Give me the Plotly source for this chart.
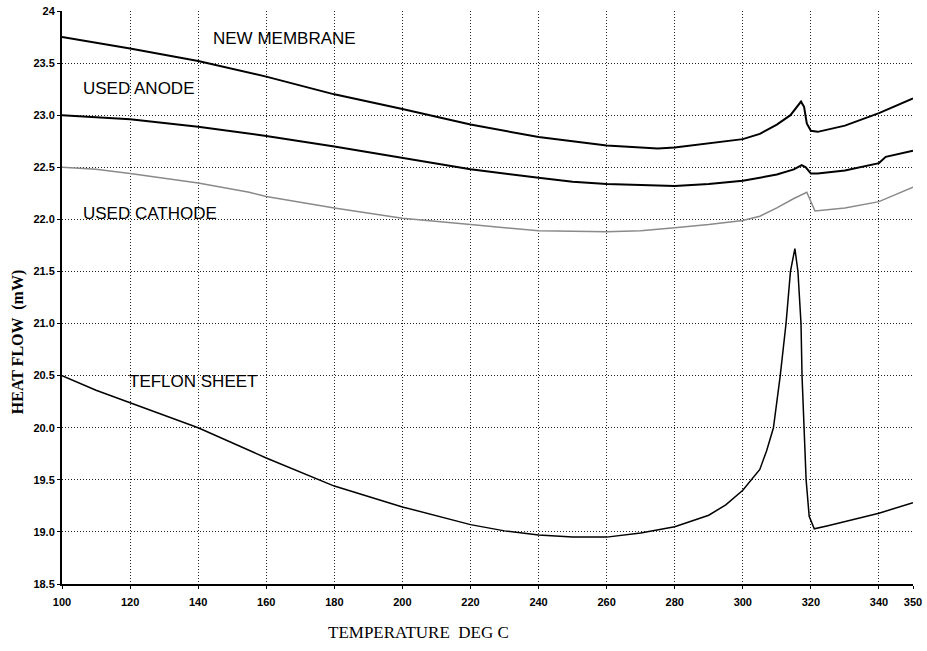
import plotly.graph_objects as go

# ---------------- data ----------------
nm_x = [100, 120, 140, 160, 180, 200, 220, 240, 260, 270, 275, 280, 290, 300, 305, 310, 314, 316, 317.1, 318, 318.8, 320, 322, 330, 340, 350]
nm_y = [23.75, 23.64, 23.52, 23.37, 23.20, 23.06, 22.91, 22.79, 22.71, 22.69, 22.68, 22.69, 22.73, 22.77, 22.82, 22.91, 23.0, 23.08, 23.13, 23.08, 22.92, 22.85, 22.84, 22.90, 23.02, 23.16]

ua_x = [100, 120, 140, 160, 180, 200, 220, 240, 250, 260, 280, 290, 300, 310, 315, 317.3, 318.5, 320, 322, 330, 340, 342, 350]
ua_y = [23.0, 22.96, 22.89, 22.80, 22.70, 22.59, 22.48, 22.40, 22.36, 22.34, 22.32, 22.34, 22.37, 22.43, 22.48, 22.52, 22.50, 22.44, 22.44, 22.47, 22.54, 22.60, 22.66]

uc_x = [100, 110, 120, 140, 155, 160, 180, 200, 220, 240, 260, 270, 280, 290, 300, 305, 310, 315, 318.8, 320, 321.2, 330, 340, 350]
uc_y = [22.5, 22.48, 22.44, 22.35, 22.26, 22.22, 22.11, 22.01, 21.95, 21.89, 21.88, 21.89, 21.92, 21.95, 21.99, 22.03, 22.11, 22.20, 22.26, 22.17, 22.08, 22.11, 22.17, 22.31]

ts_x = [100, 110, 120, 140, 160, 180, 200, 220, 230, 240, 250, 260, 270, 280, 290, 295, 300, 302.5, 305, 307, 309, 311, 312.7, 314, 315.3, 316.2, 317.1, 317.4, 318, 318.6, 319.5, 321, 325, 330, 340, 350]
ts_y = [20.5, 20.36, 20.24, 20.0, 19.71, 19.44, 19.24, 19.07, 19.01, 18.97, 18.95, 18.95, 18.99, 19.05, 19.16, 19.26, 19.4, 19.5, 19.6, 19.78, 20.0, 20.5, 21.0, 21.5, 21.72, 21.5, 21.0, 20.5, 20.0, 19.5, 19.15, 19.03, 19.06, 19.10, 19.18, 19.28]

x_ticks = [100, 120, 140, 160, 180, 200, 220, 240, 260, 280, 300, 320, 340, 350]
y_ticks = [18.5, 19.0, 19.5, 20.0, 20.5, 21.0, 21.5, 22.0, 22.5, 23.0, 23.5, 24.0]
y_tick_text = ["18.5", "19.0", "19.5", "20.0", "20.5", "21.0", "21.5", "22.0", "22.5", "23.0", "23.5", "24"]

labels = ["NEW MEMBRANE", "USED ANODE", "USED CATHODE", "TEFLON SHEET"]
label_x = [143.8, 105.6, 105.6, 119.1]
label_y = [23.74, 23.26, 22.06, 20.44]

# ---------------- figure ----------------
fig = go.Figure()
fig.add_trace(go.Scatter(x=nm_x, y=nm_y, mode="lines", line=dict(color="black", width=2), showlegend=False))
fig.add_trace(go.Scatter(x=ua_x, y=ua_y, mode="lines", line=dict(color="black", width=2), showlegend=False))
fig.add_trace(go.Scatter(x=uc_x, y=uc_y, mode="lines", line=dict(color="#8a8a8a", width=1.5), showlegend=False))
fig.add_trace(go.Scatter(x=ts_x, y=ts_y, mode="lines", line=dict(color="black", width=1.5), showlegend=False))

for t, lx, ly in zip(labels, label_x, label_y):
    fig.add_annotation(x=lx, y=ly, text=t, showarrow=False, xanchor="left", yanchor="middle",
                       font=dict(family="Liberation Sans, Arial", size=17, color="black"))

fig.add_annotation(xref="paper", yref="paper", x=-0.0517, y=0.422, text="<b>HEAT FLOW  (mW)</b>",
                   textangle=-90, showarrow=False, xanchor="center", yanchor="middle",
                   font=dict(family="Liberation Serif, Times New Roman", size=16, color="black"))
fig.add_annotation(xref="paper", yref="paper", x=0.4195, y=-0.0855, text="TEMPERATURE  DEG C",
                   showarrow=False, xanchor="center", yanchor="middle",
                   font=dict(family="Liberation Serif, Times New Roman", size=17, color="black"))

tick_font = dict(family="Liberation Sans, Arial", size=11, color="black", weight="bold")

fig.update_xaxes(range=[100, 350], tickmode="array", tickvals=x_ticks, ticktext=[str(v) for v in x_ticks],
                 showgrid=True, gridcolor="#222222", griddash="1px,2px", gridwidth=1,
                 showline=True, linecolor="black", linewidth=2, ticks="outside", ticklen=3,
                 tickcolor="black", tickfont=tick_font, zeroline=False, automargin=False,
                 ticklabelstandoff=4)
fig.update_yaxes(range=[18.5, 24], tickmode="array", tickvals=y_ticks, ticktext=y_tick_text,
                 showgrid=True, gridcolor="#222222", griddash="1px,2px", gridwidth=1,
                 showline=True, linecolor="black", linewidth=2, ticks="outside", ticklen=3,
                 tickcolor="black", tickfont=tick_font, zeroline=False, automargin=False)

fig.update_layout(width=927, height=651, margin=dict(l=62, r=14, t=11, b=67, autoexpand=False),
                  plot_bgcolor="white", paper_bgcolor="white")

fig.write_html("out.html")
